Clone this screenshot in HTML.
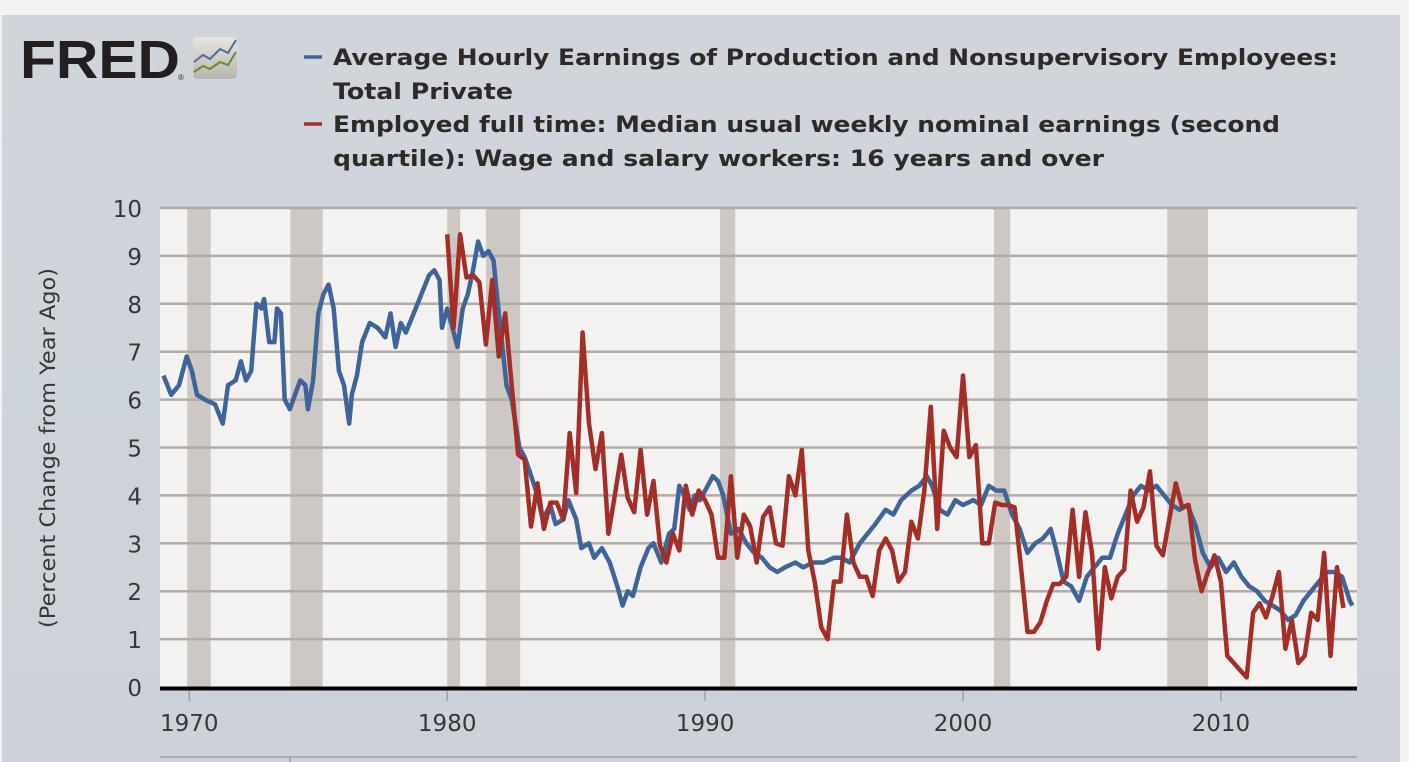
<!DOCTYPE html>
<html><head><meta charset="utf-8"><style>
html,body{margin:0;padding:0;width:1409px;height:762px;overflow:hidden;background:#f2f2f2}
svg{display:block}
</style></head><body>
<svg width="1409" height="762" viewBox="0 0 1409 762">
<defs><linearGradient id="pg" x1="0" y1="0" x2="0" y2="1"><stop offset="0" stop-color="#d0d5dc"/><stop offset="1" stop-color="#cdd2da"/></linearGradient>
<linearGradient id="ig" x1="0" y1="0" x2="0" y2="1"><stop offset="0" stop-color="#e8e6e2"/><stop offset="1" stop-color="#b8b4ae"/></linearGradient></defs>
<rect x="0" y="0" width="1409" height="15" fill="#f3f3f3"/>
<rect x="2" y="15" width="1398" height="747" fill="url(#pg)"/>
<g>
<text x="20" y="78" font-family="Liberation Sans, sans-serif" font-weight="bold" font-size="54" fill="#231f20" textLength="160" lengthAdjust="spacingAndGlyphs">FRED</text>
<text x="178" y="80" font-family="Liberation Sans, sans-serif" font-size="8" fill="#231f20">®</text>
<rect x="193" y="37" width="44" height="42" rx="4" fill="url(#ig)"/>
<polyline points="194,62 203,55 210,59 220,49 228,53 236,40" fill="none" stroke="#4f6f96" stroke-width="2"/>
<polyline points="194,72 203,66 210,69 220,62 228,65 236,52" fill="none" stroke="#5f8f35" stroke-width="2"/>
</g>
<g font-family="DejaVu Sans, Verdana, sans-serif" font-weight="bold" font-size="22" fill="#2e2a28">
<line x1="304" y1="57" x2="322" y2="57" stroke="#3e6499" stroke-width="3.5"/>
<text x="333" y="65" textLength="1005" lengthAdjust="spacingAndGlyphs">Average Hourly Earnings of Production and Nonsupervisory Employees:</text>
<text x="333" y="99" textLength="180" lengthAdjust="spacingAndGlyphs">Total Private</text>
<line x1="304" y1="124" x2="322" y2="124" stroke="#a32e28" stroke-width="3.5"/>
<text x="333" y="132" textLength="947" lengthAdjust="spacingAndGlyphs">Employed full time: Median usual weekly nominal earnings (second</text>
<text x="333" y="166" textLength="771" lengthAdjust="spacingAndGlyphs">quartile): Wage and salary workers: 16 years and over</text>
</g>
<text transform="translate(55,448) rotate(-90)" text-anchor="middle" font-family="DejaVu Sans, Verdana, sans-serif" font-size="21" fill="#3a3634" textLength="360" lengthAdjust="spacingAndGlyphs">(Percent Change from Year Ago)</text>
<rect x="160" y="208" width="1197" height="479" fill="#f3f2f0"/>
<g id="rec"></g><g id="grid"></g><g id="series"></g><g id="axes"></g>
<line x1="160" y1="757" x2="1357" y2="757" stroke="#a9adb3" stroke-width="2"/>
<line x1="290" y1="757" x2="290" y2="762" stroke="#a9adb3" stroke-width="2"/>
</svg>
<script>
const recessions=[[1969.92,1970.83],[1973.92,1975.17],[1980.0,1980.5],[1981.5,1982.83],[1990.58,1991.17],[2001.2,2001.83],[2007.92,2009.5]];
const yTicks=[0,1,2,3,4,5,6,7,8,9,10];
const xTicks=[1970,1980,1990,2000,2010];
const blueYears=[1969.0,1969.3,1969.6,1969.9,1970.1,1970.3,1970.6,1971.0,1971.3,1971.5,1971.8,1972.0,1972.2,1972.4,1972.6,1972.8,1972.9,1973.1,1973.3,1973.4,1973.55,1973.7,1973.9,1974.1,1974.3,1974.5,1974.6,1974.8,1975.0,1975.2,1975.4,1975.6,1975.8,1976.0,1976.2,1976.3,1976.5,1976.7,1977.0,1977.3,1977.6,1977.8,1978.0,1978.2,1978.4,1978.7,1979.0,1979.3,1979.5,1979.7,1979.8,1980.0,1980.2,1980.4,1980.6,1980.8,1981.0,1981.2,1981.4,1981.6,1981.8,1982.0,1982.3,1982.5,1982.8,1983.0,1983.2,1983.5,1983.7,1984.0,1984.2,1984.5,1984.7,1985.0,1985.2,1985.5,1985.7,1986.0,1986.3,1986.6,1986.8,1987.0,1987.2,1987.5,1987.8,1988.0,1988.3,1988.6,1988.8,1989.0,1989.2,1989.4,1989.6,1989.8,1990.1,1990.3,1990.5,1990.7,1991.0,1991.3,1991.6,1991.9,1992.2,1992.5,1992.8,1993.1,1993.5,1993.8,1994.2,1994.6,1995.0,1995.3,1995.6,1996.0,1996.3,1996.6,1997.0,1997.3,1997.6,1998.0,1998.3,1998.6,1998.8,1999.1,1999.4,1999.7,2000.0,2000.4,2000.7,2001.0,2001.3,2001.6,2001.9,2002.2,2002.5,2002.8,2003.1,2003.4,2003.6,2003.9,2004.2,2004.5,2004.8,2005.1,2005.4,2005.7,2006.0,2006.3,2006.6,2006.9,2007.2,2007.5,2007.8,2008.1,2008.4,2008.7,2009.0,2009.3,2009.6,2009.9,2010.2,2010.5,2010.8,2011.1,2011.4,2011.7,2012.0,2012.3,2012.6,2012.9,2013.2,2013.5,2013.8,2014.1,2014.4,2014.7,2015.0,2015.1];
const blueValues=[6.5,6.1,6.3,6.9,6.6,6.1,6.0,5.9,5.5,6.3,6.4,6.8,6.4,6.6,8.0,7.9,8.1,7.2,7.2,7.9,7.8,6.0,5.8,6.1,6.4,6.3,5.8,6.4,7.8,8.2,8.4,7.9,6.6,6.3,5.5,6.1,6.5,7.2,7.6,7.5,7.3,7.8,7.1,7.6,7.4,7.8,8.2,8.6,8.7,8.5,7.5,7.9,7.5,7.1,7.9,8.2,8.7,9.3,9.0,9.1,8.9,7.8,6.3,6.0,5.0,4.8,4.5,4.0,3.5,3.8,3.4,3.5,3.9,3.5,2.9,3.0,2.7,2.9,2.6,2.1,1.7,2.0,1.9,2.5,2.9,3.0,2.6,3.2,3.3,4.2,4.0,3.7,4.0,3.9,4.2,4.4,4.3,4.0,3.2,3.3,3.0,2.8,2.7,2.5,2.4,2.5,2.6,2.5,2.6,2.6,2.7,2.7,2.6,3.0,3.2,3.4,3.7,3.6,3.9,4.1,4.2,4.4,4.2,3.7,3.6,3.9,3.8,3.9,3.8,4.2,4.1,4.1,3.6,3.3,2.8,3.0,3.1,3.3,2.9,2.2,2.1,1.8,2.3,2.5,2.7,2.7,3.2,3.6,4.0,4.2,4.1,4.2,4.0,3.8,3.7,3.8,3.4,2.8,2.5,2.7,2.4,2.6,2.3,2.1,2.0,1.8,1.7,1.6,1.4,1.5,1.8,2.0,2.2,2.4,2.4,2.3,1.8,1.7];
const redStart=1980.0, redStep=0.25;
const redValues=[9.45,7.5,9.45,8.55,8.6,8.45,7.15,8.5,6.9,7.8,6.3,4.85,4.75,3.35,4.25,3.3,3.85,3.85,3.5,5.3,4.05,7.4,5.5,4.55,5.3,3.2,4.0,4.85,3.95,3.65,4.95,3.6,4.3,2.95,2.6,3.2,2.85,4.2,3.6,4.1,3.9,3.6,2.7,2.7,4.4,2.7,3.6,3.35,2.6,3.55,3.75,3.0,2.95,4.4,4.0,4.95,2.85,2.2,1.25,1.0,2.2,2.2,3.6,2.6,2.3,2.3,1.9,2.85,3.1,2.85,2.2,2.4,3.45,3.1,4.1,5.85,3.3,5.35,5.0,4.8,6.5,4.8,5.05,3.0,3.0,3.85,3.8,3.8,3.75,2.5,1.15,1.15,1.35,1.8,2.15,2.15,2.3,3.7,2.3,3.65,2.8,0.8,2.5,1.85,2.3,2.45,4.1,3.45,3.75,4.5,2.95,2.75,3.5,4.25,3.75,3.8,2.65,2.0,2.4,2.75,2.2,0.65,0.5,0.35,0.2,1.55,1.75,1.45,1.9,2.4,0.8,1.4,0.5,0.65,1.55,1.4,2.8,0.65,2.5,1.65];

const NS='http://www.w3.org/2000/svg';
const X0=160,X1=1357,Y0=687,Y1=208;
function xs(yr){return 963+(yr-2000)*25.79;}
function ys(v){return Y0-(v-0)*(Y0-Y1)/10;}
function mk(tag,attrs,parent){const e=document.createElementNS(NS,tag);for(const k in attrs)e.setAttribute(k,attrs[k]);parent.appendChild(e);return e;}
const rec=document.getElementById('rec'),grid=document.getElementById('grid'),ser=document.getElementById('series'),axes=document.getElementById('axes');
recessions.forEach(r=>{const a=Math.max(X0,xs(r[0])),b=Math.min(X1,xs(r[1]));
 const e=mk('rect',{x:a,y:Y1,width:b-a,height:Y0-Y1,fill:'#cdc8c4'},rec);
 
 });
yTicks.forEach(t=>{if(t>0){const l=mk('line',{x1:X0,x2:X1,y1:ys(t),y2:ys(t),stroke:'#b3aba7','stroke-width':2.5},grid);
 
 }
 const tx=mk('text',{x:142,y:ys(t)+9,'text-anchor':'end','font-family':'DejaVu Sans, Verdana, sans-serif','font-size':'23',fill:'#3a3634'},axes);
 tx.textContent=t;
 
 });
function line(pts,color,name){const e=mk('polyline',{points:pts.map(p=>p[0].toFixed(1)+','+p[1].toFixed(1)).join(' '),fill:'none',stroke:color,'stroke-width':4.5,'stroke-linejoin':'round'},ser);
 
 }
line(blueYears.map((y,i)=>[xs(y),ys(blueValues[i])]),'#3e6499','series-hourly-earnings');
line(redValues.map((v,i)=>[xs(redStart+i*redStep),ys(v)]),'#a32e28','series-weekly-earnings');
const ax=mk('line',{x1:X0,x2:X1,y1:Y0+1.5,y2:Y0+1.5,stroke:'#000','stroke-width':4},axes);


xTicks.forEach(t=>{const tk=mk('line',{x1:xs(t),x2:xs(t),y1:Y0+4,y2:Y0+14,stroke:'#9aa3ad','stroke-width':1.5},axes);
 
 
 const tx=mk('text',{x:xs(t),y:731,'text-anchor':'middle','font-family':'DejaVu Sans, Verdana, sans-serif','font-size':'23',fill:'#3a3634'},axes);
 tx.textContent=t;
 
 });
</script>
</body></html>
